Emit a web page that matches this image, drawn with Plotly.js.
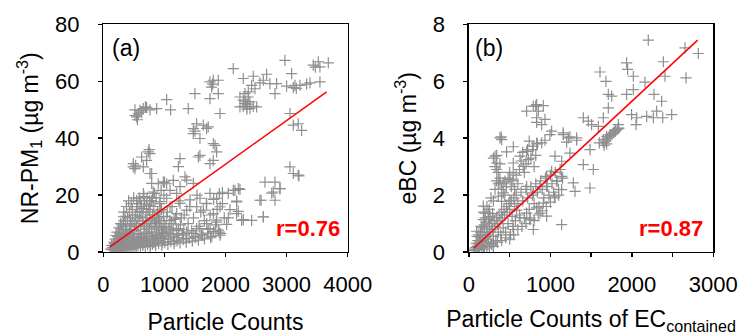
<!DOCTYPE html>
<html>
<head>
<meta charset="utf-8">
<script src="https://cdn.plot.ly/plotly-3.0.1.min.js"></script>
<style>html,body{margin:0;padding:0;background:#fff;}#chart{width:741px;height:335px;}</style>
</head>
<body>
<div id="chart"></div>
<script>
// Panel (a): Particle Counts vs NR-PM1
const aPairs = [
518,50, 600,49.8, 655,50.4, 709,50.8, 546,47.5, 573,48.6, 627,49.2, 764,50, 873,50.4, 1037,53.6, 1102,50, 1391,50.4, 518,48, 560,46.5, 690,51,
2237,54.5, 2291,53.4, 2319,52.2, 2346,51, 2373,54.5, 2400,52.8, 2455,51.2, 2510,51, 2319,55.7, 2373,56.3, 2482,57.4, 2428,58.6, 2237,51, 2291,51.2, 2350,50.2, 2400,50.5, 2330,53, 2360,52,
2973,67.4, 2128,64.5, 2291,61, 2455,61.8, 2673,62.5, 3082,62.7, 3437,65.7, 3519,66.9, 3683,66.5, 3546,65.1, 2728,59.2, 2837,59.2, 3000,58.3, 3110,57.8, 3219,58.6, 3328,59, 3383,59.5, 3546,59.8, 2564,59.5, 2619,60.4, 2810,55.7, 3137,58.6, 3470,65, 3160,57.5,
1746,59.8, 1800,60.4, 1882,60.4, 1773,58, 1882,55.7, 1746,53.9, 1910,48.7, 1500,55.7, 1790,59,
1473,43.4, 1528,45.1, 1637,44.6, 1718,44, 1473,41.6, 1582,39.9, 1800,38.1, 1855,35.2, 1800,32.2, 1746,31.1, 1582,34, 1255,32.8, 1337,26.4, 1500,42.5, 1690,43.5,
3055,29.9, 3110,27.6, 3191,27, 3055,48.7, 3110,44.6, 3191,45.1, 3246,42.8, 2646,24.6, 2810,24.6, 2891,22.3, 2782,21.1, 2810,18.2, 2564,18.2, 2619,12.3, 2428,11.1, 2264,11.1, 2182,13.5, 2182,17.6, 2128,21.7, 2210,22.3, 3203,26.8,
491,31.1, 518,29.3, 627,33.4, 655,29.9, 737,35.2, 764,27.6, 709,32.2, 491,29.9, 764,34.6, 750,36, 530,30.5,
982,24.6, 1037,24, 1146,25.2, 900,24, 818,21.1, 655,20.5, 1229,30, 1556,33.4, 1829,37.5, 792,27.6, 1001,24.6,
792,24.1, 947,21.7, 838,20.6, 546,18.2, 546,15.9, 655,15.3, 764,16.5, 928,17.7, 1037,18.9, 1201,20.6, 1365,25.3, 1474,24.1, 1256,23, 1092,21.7, 1583,18.9, 1747,20.6, 1856,18.9, 1692,17.1, 1528,15.9, 1365,14.7, 1201,13.5, 1037,12.4, 874,11.2, 710,10, 546,8.8, 383,7.7, 328,12.4, 437,10, 601,12.4, 764,14.1, 928,14.7, 1092,15.9, 1256,17.1, 1419,18.3, 1638,14.7, 1802,13.5, 1911,15.9, 1856,11.2, 1692,10, 1528,8.2, 1365,7, 1229,8.2, 1092,6.5, 983,7.7, 846,5.9, 710,6.5, 601,5.3, 491,4.7, 383,4.1, 273,3.5, 192,2.9, 137,2.3, 246,4.7, 328,5.9, 437,7, 519,2.9, 655,4.1, 819,3.5, 983,4.7, 1147,5.3, 1310,5.9, 1474,6.5, 1583,8.2, 1747,8.2, 1883,7.7, 1911,5.9,
2046,20.6, 2155,21.7, 2237,22, 2183,17.9, 2210,14.3, 2292,11.4, 2583,18.2, 2757,20.7, 2893,22.3, 2620,12.4, 2046,12, 2019,9.7, 2074,14.9, 1950,17, 1980,12, 1920,6.5, 1850,10.5, 1900,20.5, 1950,21,
150,1.5, 172,2.2, 188,1.8, 203,3, 214,2.5, 226,1.2, 233,3.8, 244,2, 257,1.5, 262,4.2, 276,3, 283,2.2, 295,5, 302,3.5, 318,1.8, 322,4.5, 337,6, 341,2.8, 356,3.8, 362,5.5, 374,7, 386,2.5, 391,4, 405,6.5, 412,3.2, 426,8, 433,5, 447,2.5, 455,9.5, 461,4, 476,6, 484,11, 493,3, 507,7.5, 512,5, 525,13, 536,2.8, 544,9, 553,4.5, 566,16, 574,6.5, 585,11, 594,3.5, 606,18, 613,8, 627,5, 634,14, 645,2.8, 652,10, 667,6, 673,17, 686,4, 694,12, 703,7, 716,19, 724,3.5, 733,9, 745,15, 754,5.5, 766,11, 773,2.6, 787,18, 792,7, 806,13, 813,4.5, 826,16, 834,8.5, 847,3.2, 853,10.5, 866,19, 874,6, 887,14, 893,4, 906,12, 914,8, 927,17, 933,5, 946,10, 953,15, 966,3.5, 974,7, 986,12.5, 993,20, 1008,5.5, 1026,9, 1047,14, 1063,4.5, 1088,11, 1104,6, 1126,16, 1143,8, 1167,3.8, 1184,12, 1206,5, 1237,18, 1262,9.5, 1297,6.5, 1324,13, 1356,4.8, 1387,10, 1416,16, 1447,7.5, 1476,12, 1508,5, 1534,20, 1567,9, 1595,14, 1628,6, 1654,11, 1687,17, 1716,8, 1748,13, 1776,5.5, 1806,18.5, 1837,9.5, 1864,15, 1896,7,
120,1, 143,0.8, 164,1.4, 182,0.5, 205,1, 227,0.8, 253,0.6, 284,1.2, 306,0.9, 327,1.6, 354,0.7, 385,1.3, 406,0.9, 437,1.5, 468,1.1, 503,1.8, 537,1.4, 566,2.1, 607,1.6, 646,2.3, 688,1.8, 725,2.5, 767,2, 806,2.8, 857,2.2, 905,3, 958,2.4, 1006,3.3, 1057,2.7, 1106,3.6, 1158,2.9, 1207,3.9, 1256,3.2, 1308,4.3, 1357,3.5, 1406,4.8, 1457,3.8, 1506,5.4, 1557,4.2, 1608,6, 1656,4.6, 1708,6.6, 1757,5, 1806,7.2,
176,3.5, 195,4.5, 236,5.5, 265,6.5, 287,8, 305,9.5, 336,11, 357,12.5, 282,10, 334,14, 378,16, 414,18, 456,17, 474,15, 497,19, 545,17, 588,19, 624,16, 665,19.5, 706,16, 757,18, 805,19, 326,9, 365,10, 396,12, 428,14, 445,11, 478,13, 516,10, 556,12, 597,14, 638,11, 675,9, 717,13, 758,8, 796,10, 836,12, 877,9, 916,11, 957,8.5, 996,10, 1035,7, 1076,8.5, 1117,10, 1158,11.5, 1196,7.5, 1236,6, 1277,12, 1318,8, 254,8.5, 224,7, 207,5.8, 185,3, 266,2.6, 308,2.2, 357,1.9, 404,2.7, 457,3.4, 505,2.4, 556,3.6, 604,4.2, 657,3.3, 706,4.8, 757,3.9, 805,5.3, 856,4.6, 906,5.8, 955,6.5
];
const aFitX = [110, 3656];
const aFitY = [1.8, 56.3];

// Panel (b): Particle Counts of EC_contained vs eBC
const bPairs = [
2202,7.45, 2816,6.98, 2653,7.18, 2665,6.12, 2387,6.69, 2407,6.18, 1936,6.65, 1948,6.42, 2018,6.18, 1609,6.33, 1682,6.0, 1711,5.54, 1752,5.48, 1711,5.07, 1936,5.54, 2018,5.71, 2161,5.97, 2272,5.54, 2366,5.30, 2305,4.95, 2379,4.72, 2489,4.83, 2182,4.77, 2264,4.72, 2059,4.72, 1997,4.83, 2051,4.48, 1834,4.48, 1650,4.72, 1588,4.42, 1506,4.48, 1404,4.72, 1465,4.60,
1650,3.95, 1601,3.84, 1731,4.13, 1793,4.28, 1834,4.36, 1690,4.07, 1486,3.6, 1527,2.9, 1486,2.25, 1404,3.07, 1322,3.93, 1240,4.05, 1158,4.19, 1199,3.86, 1056,3.37, 1138,3.19, 1240,3.48, 1281,2.43, 1302,2.13, 1138,0.96, 954,1.26, 872,1.37, 790,0.79,
708,4.95, 790,5.13, 831,5.18, 913,5.15, 852,4.95, 831,4.72, 831,4.56, 893,4.48, 995,4.13, 893,3.84, 790,3.72, 708,3.54, 729,3.25, 626,3.37, 544,3.13, 544,3.70, 462,3.52, 380,4.01, 401,3.95, 319,3.37, 339,3.13, 339,2.9, 380,2.43, 442,2.49, 503,2.55, 544,2.78, 667,3.01, 708,2.31, 790,2.08, 872,2.31, 954,2.66, 1015,2.84, 954,2.31, 1077,2.49, 1138,2.19, 1138,2.66, 1056,1.96, 913,1.72, 831,1.55, 708,1.37, 749,1.14, 626,1.2, 544,0.79, 585,1.47, 503,1.82, 421,2.08, 401,1.78, 360,1.96, 237,1.37, 176,1.61, 176,1.14, 94,0.73,
819,5.13, 933,4.66, 1015,4.25, 1158,4.13, 1220,4.01, 1322,4.01, 831,3.83, 933,3.93, 395,4.05,
1650,3.85, 1680,3.9, 1700,4.0, 1720,4.05, 1740,4.1, 1760,4.15, 1780,4.2, 1800,4.25, 1820,4.3, 1840,4.35, 1660,3.75, 1690,3.8,
60,0.1, 80,0.15, 90,0.3, 100,0.2, 110,0.4, 120,0.1, 130,0.35, 140,0.5, 150,0.25, 160,0.6, 170,0.4, 180,0.2, 190,0.7, 200,0.5, 210,0.35, 220,0.8, 230,0.6, 240,0.45, 250,0.9, 260,0.7, 270,0.3, 280,1.0, 290,0.8, 300,0.55, 310,1.1, 320,0.9, 330,0.4, 340,1.2, 350,1.0, 360,0.7, 370,1.3, 380,1.1, 390,0.6, 400,1.4, 410,1.2, 420,0.85, 430,1.5, 440,1.3, 450,0.7, 460,1.6, 470,1.4, 480,1.0, 490,1.7, 500,1.5, 510,0.6, 520,1.8, 530,1.25, 540,0.9, 550,1.9, 560,1.6, 570,1.1, 580,2.0, 600,1.7, 620,1.3, 640,2.1, 660,1.8, 680,1.2, 700,2.2, 720,1.9, 740,1.5, 760,2.3, 780,2.0, 800,1.7, 820,2.4, 840,2.1, 860,1.6, 880,2.5, 900,2.2, 920,1.9, 940,2.6, 960,2.3, 980,2.0, 1000,2.7, 1020,2.4, 1040,2.1, 1060,2.8, 1080,2.5, 1100,2.2, 1120,2.9, 1150,2.6,
150,0.9, 180,1.4, 200,1.2, 220,1.6, 250,1.5, 270,1.9, 300,1.8, 320,2.2, 340,2.5, 360,2.8, 380,3.1, 300,3.3, 320,3.0, 340,3.4, 360,2.4, 380,2.6, 400,2.2, 420,2.4, 440,2.0, 460,2.3, 480,2.6, 500,2.8, 520,2.3, 540,2.5, 560,2.2, 580,2.7, 600,2.4, 620,2.9, 640,3.2, 660,3.5, 680,2.8, 700,3.1, 720,3.6, 740,3.9, 760,3.3, 780,3.6, 800,3.0, 820,3.4, 840,3.8,
300,0.2, 350,0.35, 400,0.4, 450,0.5, 500,0.45, 550,0.6, 600,0.8, 650,0.9, 700,1.0, 750,1.2, 800,1.1, 850,1.3, 900,1.45, 950,1.6, 1000,1.75, 1050,1.9, 1100,2.0,
70,0.05, 100,0.08, 130,0.12, 160,0.15, 190,0.1, 220,0.2, 250,0.18, 280,0.25, 120,0.6, 140,0.7, 100,0.55, 170,0.85, 190,0.95, 210,1.05, 240,1.15, 260,1.25, 290,1.35, 196,1.37
];
const bFitX = [61, 2808];
const bFitY = [0.14, 7.45];

const ax = [], ay = [], bx = [], by = [];
for (let i = 0; i < aPairs.length; i += 2) { ax.push(aPairs[i]); ay.push(aPairs[i+1]); }
for (let i = 0; i < bPairs.length; i += 2) { bx.push(bPairs[i]); by.push(bPairs[i+1]); }

const FONT = "Liberation Sans, Arial, sans-serif";
const grey = "#8f8f8f";
const mk = {symbol: "cross-thin", size: 8, color: grey, line: {color: grey, width: 1.2}};

const traces = [
  {x: ax, y: ay, type: "scatter", mode: "markers", marker: mk, xaxis: "x", yaxis: "y", hoverinfo: "none"},
  {x: aFitX, y: aFitY, type: "scatter", mode: "lines", line: {color: "#ff0000", width: 1.5}, xaxis: "x", yaxis: "y"},
  {x: bx, y: by, type: "scatter", mode: "markers", marker: mk, xaxis: "x2", yaxis: "y2", hoverinfo: "none"},
  {x: bFitX, y: bFitY, type: "scatter", mode: "lines", line: {color: "#ff0000", width: 1.5}, xaxis: "x2", yaxis: "y2"}
];

const axBase = {
  showline: true, mirror: true, linecolor: "#000", linewidth: 1.5,
  ticks: "outside", ticklen: 4, tickwidth: 1.5, tickcolor: "#000",
  showgrid: false, zeroline: false,
  tickfont: {family: FONT, size: 22, color: "#000"}
};
const titleFont = {family: FONT, size: 23, color: "#000"};

const layout = {
  width: 741, height: 335,
  margin: {l: 0, r: 0, t: 0, b: 0},
  paper_bgcolor: "#fff", plot_bgcolor: "#fff",
  showlegend: false,
  xaxis: Object.assign({}, axBase, {domain: [0.1394, 0.4692], range: [0, 4000], dtick: 1000, tick0: 0, anchor: "y",
    ticklabelstandoff: 8,
    title: {text: "Particle Counts", font: titleFont, standoff: 20}}),
  yaxis: Object.assign({}, axBase, {domain: [0.2478, 0.9269], range: [0, 80], dtick: 20, tick0: 0, anchor: "x",
    ticklabelstandoff: 14,
    title: {text: "NR-PM<sub>1</sub> (µg m<sup>-3</sup>)", font: titleFont, standoff: 10}}),
  xaxis2: Object.assign({}, axBase, {domain: [0.6329, 0.9626], range: [0, 3000], dtick: 1000, tick0: 0, anchor: "y2",
    ticklabelstandoff: 8,
    minor: {dtick: 500, ticks: "outside", ticklen: 4, tickwidth: 1.5, tickcolor: "#000", showgrid: false},
    title: {text: "Particle Counts of EC<sub>contained</sub>", font: titleFont, standoff: 20}}),
  yaxis2: Object.assign({}, axBase, {domain: [0.2478, 0.9269], range: [0, 8], dtick: 2, tick0: 0, anchor: "x2",
    ticklabelstandoff: 14,
    title: {text: "eBC (µg m<sup>-3</sup>)", font: titleFont, standoff: 10}}),
  annotations: [
    {text: "(a)", xref: "paper", yref: "paper", x: 110/741, y: 1 - 33/335, xanchor: "left", yanchor: "top", showarrow: false, font: {family: FONT, size: 23, color: "#000"}},
    {text: "<b>r=0.76</b>", xref: "paper", yref: "paper", x: 342/741, y: 1 - 243/335, xanchor: "right", yanchor: "bottom", showarrow: false, font: {family: FONT, size: 22, color: "#ff0000"}},
    {text: "(b)", xref: "paper", yref: "paper", x: 473/741, y: 1 - 33/335, xanchor: "left", yanchor: "top", showarrow: false, font: {family: FONT, size: 23, color: "#000"}},
    {text: "<b>r=0.87</b>", xref: "paper", yref: "paper", x: 705/741, y: 1 - 243/335, xanchor: "right", yanchor: "bottom", showarrow: false, font: {family: FONT, size: 22, color: "#ff0000"}}
  ]
};

Plotly.newPlot("chart", traces, layout, {staticPlot: true, displayModeBar: false});
</script>
</body>
</html>
